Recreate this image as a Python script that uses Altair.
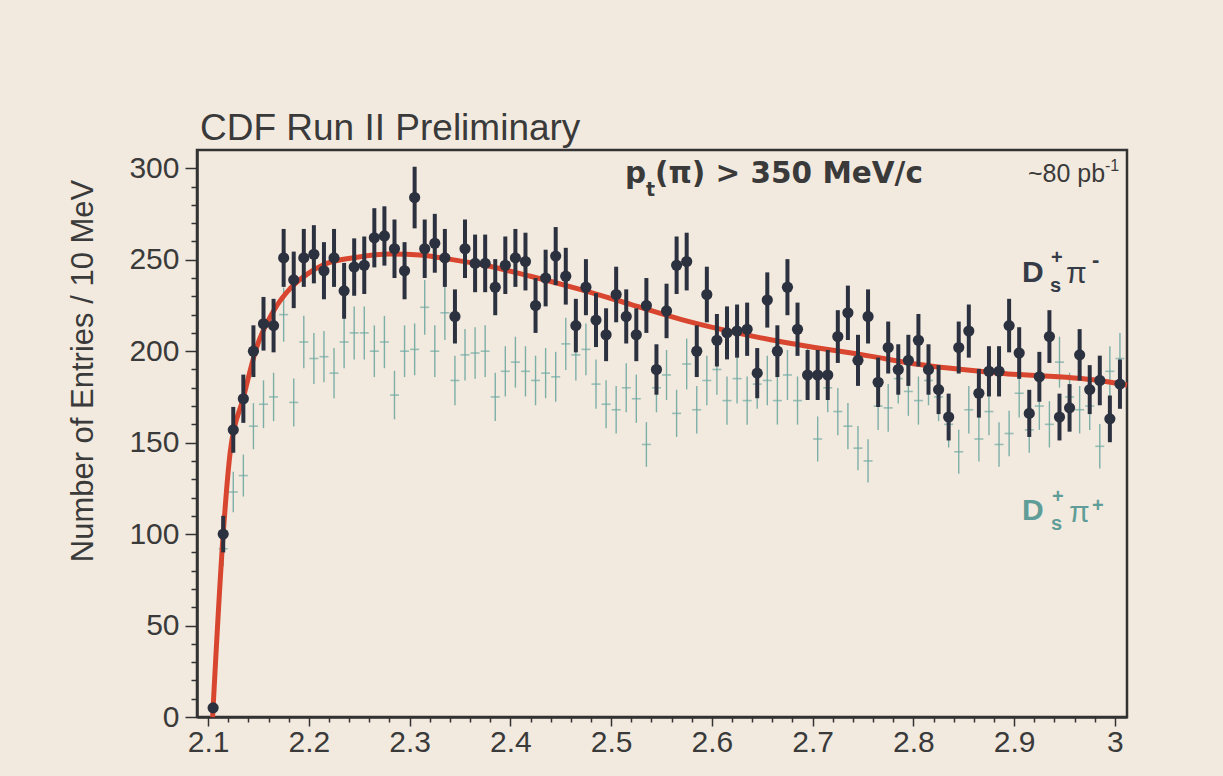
import altair as alt
import numpy as np
import pandas as pd

# ---------------- data ----------------
BIN_CENTERS = [
    2.105, 2.115, 2.125, 2.135, 2.145, 2.155, 2.165, 2.175, 2.185, 2.195,
    2.205, 2.215, 2.225, 2.235, 2.245, 2.255, 2.265, 2.275, 2.285, 2.295,
    2.305, 2.315, 2.325, 2.335, 2.345, 2.355, 2.365, 2.375, 2.385, 2.395,
    2.405, 2.415, 2.425, 2.435, 2.445, 2.455, 2.465, 2.475, 2.485, 2.495,
    2.505, 2.515, 2.525, 2.535, 2.545, 2.555, 2.565, 2.575, 2.585, 2.595,
    2.605, 2.615, 2.625, 2.635, 2.645, 2.655, 2.665, 2.675, 2.685, 2.695,
    2.705, 2.715, 2.725, 2.735, 2.745, 2.755, 2.765, 2.775, 2.785, 2.795,
    2.805, 2.815, 2.825, 2.835, 2.845, 2.855, 2.865, 2.875, 2.885, 2.895,
    2.905, 2.915, 2.925, 2.935, 2.945, 2.955, 2.965, 2.975, 2.985, 2.995,
    3.005,
]

# D_s+ pi-  (right-sign, dark points)
DS_PIMINUS = [
    5, 100, 157, 174, 200, 215, 214, 251, 239, 251,
    253, 244, 251, 233, 246, 247, 262, 263, 256, 244,
    284, 256, 259, 251, 219, 256, 248, 248, 235, 247,
    251, 249, 225, 240, 252, 241, 214, 235, 217, 209,
    231, 219, 209, 225, 190, 222, 247, 249, 200, 231,
    206, 210, 211, 212, 188, 228, 200, 235, 212, 187,
    187, 187, 208, 221, 195, 219, 183, 202, 190, 195,
    206, 190, 179, 164, 202, 211, 177, 189, 189, 214,
    199, 166, 186, 208, 164, 169, 198, 179, 184, 163,
    182,
]

# D_s+ pi+  (wrong-sign, teal crosses)
DS_PIPLUS = [
    4, 92, 123, 132, 159, 171, 175, 220, 172, 205,
    196, 197, 188, 205, 210, 210, 200, 205, 176, 200,
    201, 224, 200, 221, 184, 198, 199, 200, 175, 189,
    194, 189, 184, 188, 186, 204, 198, 201, 182, 171,
    168, 180, 174, 149, 180, 187, 166, 193, 168, 184,
    190, 173, 185, 173, 182, 184, 173, 187, 173, 188,
    152, 180, 167, 159, 147, 140, 170, 169, 185, 178,
    173, 184, 175, 160, 145, 168, 152, 167, 149, 155,
    177, 157, 170, 160, 194, 175, 168, 170, 148, 189,
    196,
]

# fitted background curve
FIT_X = [2.1045, 2.115, 2.122, 2.135, 2.148, 2.165, 2.182, 2.198, 2.215, 2.248,
         2.28, 2.314, 2.327, 2.37, 2.42, 2.47, 2.52, 2.57, 2.657, 2.757,
         2.806, 2.886, 2.984, 3.012]
FIT_Y = [0, 100, 145, 174.5, 201.8, 222, 234.6, 242, 247.4, 251.4,
         253.2, 252.5, 251.4, 247.5, 241, 233.7, 225.5, 217.3, 206.4, 197.3,
         192.7, 188, 184, 181.5]

X_TICKS = [2.10, 2.12, 2.14, 2.16, 2.18, 2.20, 2.22, 2.24, 2.26, 2.28,
           2.30, 2.32, 2.34, 2.36, 2.38, 2.40, 2.42, 2.44, 2.46, 2.48,
           2.50, 2.52, 2.54, 2.56, 2.58, 2.60, 2.62, 2.64, 2.66, 2.68,
           2.70, 2.72, 2.74, 2.76, 2.78, 2.80, 2.82, 2.84, 2.86, 2.88,
           2.90, 2.92, 2.94, 2.96, 2.98, 3.00]
Y_TICKS = [0, 10, 20, 30, 40, 50, 60, 70, 80, 90, 100, 110, 120, 130, 140,
           150, 160, 170, 180, 190, 200, 210, 220, 230, 240, 250, 260, 270,
           280, 290, 300]

TITLE = "CDF Run II Preliminary"
Y_TITLE = "Number of Entries / 10 MeV"

# ---------------- styling ----------------
BG = "#f3eadf"
INK = "#333333"
DARK = "#2c3140"
TEAL = "#6fa9a2"
TEAL_TXT = "#5f9d98"
RED = "#d8462f"
FONT = "Liberation Sans"

X_DOMAIN = [2.089, 3.012]
Y_DOMAIN = [0, 310]

dark = pd.DataFrame({"m": BIN_CENTERS, "n": DS_PIMINUS})
dark["lo"] = dark["n"] - np.sqrt(dark["n"])
dark["hi"] = dark["n"] + np.sqrt(dark["n"])
teal = pd.DataFrame({"m": BIN_CENTERS, "n": DS_PIPLUS})
teal["lo"] = teal["n"] - np.sqrt(teal["n"])
teal["hi"] = teal["n"] + np.sqrt(teal["n"])
fit = pd.DataFrame({"m": FIT_X, "n": FIT_Y})

major_x = "abs(datum.value*10 - round(datum.value*10)) < 0.000001"
major_y = "datum.value % 50 === 0"

x_scale = alt.Scale(domain=X_DOMAIN, nice=False, zero=False)
y_scale = alt.Scale(domain=Y_DOMAIN, nice=False)

x_axis = alt.Axis(
    values=X_TICKS, title=None, grid=False,
    labelExpr=f"{major_x} ? format(datum.value, '.1~f') : ''",
    tickSize={"condition": {"test": major_x, "value": 9}, "value": 5},
    tickColor=INK, tickWidth=1.5, domainColor=INK, domainWidth=2.5,
    labelFont=FONT, labelFontSize=30, labelColor="#3a3a3a", labelPadding=1,
    labelFlush=False, labelOverlap=False,
)
y_axis = alt.Axis(
    values=Y_TICKS, title=None, grid=False,
    labelExpr=f"{major_y} ? datum.label : ''",
    tickSize={"condition": {"test": major_y, "value": 12}, "value": 6},
    tickColor=INK, tickWidth=1.5, domainColor=INK, domainWidth=2.5,
    labelFont=FONT, labelFontSize=30, labelColor="#3a3a3a", labelPadding=6,
    labelFlush=False, labelOverlap=False,
)


def X(field):
    return alt.X(f"{field}:Q", scale=x_scale, axis=x_axis)


def Y(field):
    return alt.Y(f"{field}:Q", scale=y_scale, axis=y_axis)


teal_bars = alt.Chart(teal).mark_rule(color=TEAL, strokeWidth=1.4, opacity=0.9).encode(
    x=X("m"), y=Y("lo"), y2="hi:Q")
teal_ticks = alt.Chart(teal).mark_tick(color=TEAL, orient="horizontal", size=9, thickness=1.6).encode(
    x=X("m"), y=Y("n"))

fit_line = alt.Chart(fit).mark_line(color=RED, strokeWidth=5, interpolate="monotone").encode(
    x=X("m"), y=Y("n"))

dark_bars = alt.Chart(dark).mark_rule(color=DARK, strokeWidth=4).encode(
    x=X("m"), y=Y("lo"), y2="hi:Q")
dark_pts = alt.Chart(dark).mark_circle(color=DARK, size=125, opacity=1).encode(
    x=X("m"), y=Y("n"))

one = pd.DataFrame({"k": [0]})


def label(text, x, y, size, color=INK, weight="normal", font=FONT, angle=0, align="left",
          baseline="alphabetic"):
    return alt.Chart(one).mark_text(
        text=text, font=font, fontSize=size, fontWeight=weight, color=color,
        align=align, baseline=baseline, angle=angle,
    ).encode(x=alt.value(x), y=alt.value(y))


texts = [
    label(TITLE, 3, -10, 37, color="#3a3a3a"),
    label(Y_TITLE, -104, 221, 31, color="#3a3a3a", angle=270, align="center"),
    # p_t(pi) > 350 MeV/c
    label("p", 428, 33, 29.5, color="#3a3a3a", weight="bold", font="DejaVu Sans"),
    label("t", 449, 46, 19, color="#3a3a3a", weight="bold", font="DejaVu Sans"),
    label("(\u03c0) > 350 MeV/c", 458, 33, 29.5, color="#3a3a3a", weight="bold", font="DejaVu Sans"),
    # ~80 pb^-1
    label("~80 pb", 831, 32, 25, color="#3a3a3a"),
    label("-1", 908, 21, 16, color="#3a3a3a"),
    # D_s^+ pi^-
    label("D", 825, 132, 30, color="#363b48", weight="bold"),
    label("s", 853, 142, 20, color="#363b48", weight="bold"),
    label("+", 854, 114, 20, color="#363b48", weight="bold"),
    label("\u03c0", 869, 133, 30, color="#363b48"),
    label("-", 895, 117, 22, color="#363b48", weight="bold"),
    # D_s^+ pi^+
    label("D", 825, 370, 30, color=TEAL_TXT, weight="bold"),
    label("s", 854, 380, 20, color=TEAL_TXT, weight="bold"),
    label("+", 855, 353, 20, color=TEAL_TXT, weight="bold"),
    label("\u03c0", 872, 372, 30, color=TEAL_TXT),
    label("+", 895, 362, 20, color=TEAL_TXT, weight="bold"),
]

chart = alt.layer(
    teal_bars, teal_ticks, fit_line, dark_bars, dark_pts, *texts
).properties(
    width=930, height=567,
    padding={"left": 197, "top": 150, "right": 96, "bottom": 59},
    autosize=alt.AutoSizeParams(type="none"),
    background=BG,
).configure_view(
    stroke=INK, strokeWidth=2.5, fill=BG,
).configure_axis(
    labelOverlap=False,
)

chart.save("out.html", embed_options={"renderer": "svg", "actions": False})
